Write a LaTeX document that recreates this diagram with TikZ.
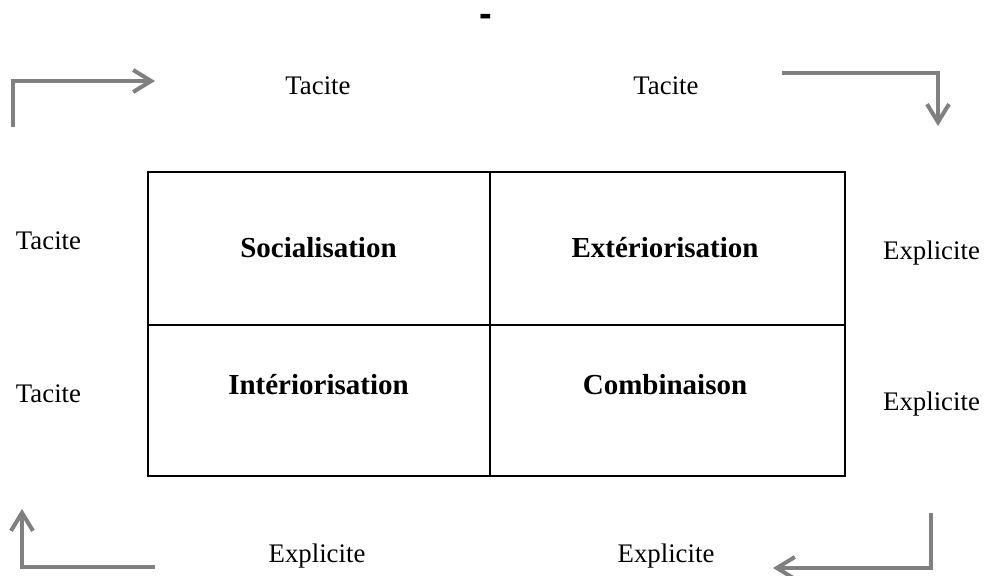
\documentclass[tikz,border=0pt]{standalone}
\usepackage{fontspec}
\setmainfont{Liberation Serif}
\newfontfamily\dashfont{Liberation Sans}
\usetikzlibrary{arrows.meta}

\begin{document}
\begin{tikzpicture}[x=0.5pt, y=-0.5pt,
    side/.style = {anchor=base, font=\fontsize{13.4}{16}\selectfont},
    mode/.style = {anchor=base, font=\fontsize{14.5}{17}\selectfont\bfseries},
    turn/.style = {draw=gray, line width=2pt,
      -{Straight Barb[length=9pt, width=11pt, line width=2pt]}}]
  \useasboundingbox (0,0) rectangle (985,576);
  \node[anchor=base, font=\dashfont\fontsize{19}{21}\selectfont\bfseries] (dash) at (486,27) {-};

  % the four modes
  \coordinate (nw) at (148,172);
  \coordinate (se) at (845,476);
  \draw[line width=1pt] (nw) rectangle (se);
  \draw[line width=1pt] (490,172) -- (490,476);
  \draw[line width=1pt] (148,325) -- (845,325);
  \node[mode] (soc)  at (318.5,258) {Socialisation};
  \node[mode] (ext)  at (665,258)   {Extériorisation};
  \node[mode] (int)  at (318.5,395) {Intériorisation};
  \node[mode] (comb) at (665,395)   {Combinaison};

  % labels round the matrix
  \node[side] (top1) at (318,95)    {Tacite};
  \node[side] (top2) at (666,95)    {Tacite};
  \node[side] (lft1) at (48.5,250)  {Tacite};
  \node[side] (lft2) at (48.5,403)  {Tacite};
  \node[side] (rgt1) at (931.5,260) {Explicite};
  \node[side] (rgt2) at (931.5,411) {Explicite};
  \node[side] (bot1) at (317,563)   {Explicite};
  \node[side] (bot2) at (666,563)   {Explicite};

  % turning arrows
  \coordinate (a1) at (13,127);   \coordinate (b1) at (155,81);
  \coordinate (a2) at (782,73);   \coordinate (b2) at (938,126);
  \coordinate (a3) at (155,567);  \coordinate (b3) at (22,509);
  \coordinate (a4) at (931,513);  \coordinate (b4) at (773,568);
  \draw[turn] (a1) |- (b1);
  \draw[turn] (a2) -| (b2);
  \draw[turn] (a3) -| (b3);
  \draw[turn] (a4) |- (b4);
\end{tikzpicture}
\end{document}
